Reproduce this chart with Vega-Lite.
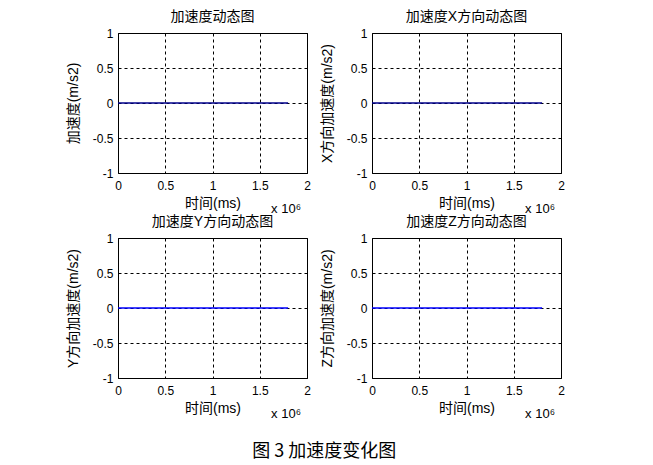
{
  "$schema": "https://vega.github.io/schema/vega-lite/v6.json",
  "background": "white",
  "padding": {"left": 65, "top": 9, "right": 10, "bottom": 10},
  "data": {"values": [
    {"panel": "all", "t": 0, "a": 0},
    {"panel": "all", "t": 1800000, "a": 0},
    {"panel": "x", "t": 0, "a": 0},
    {"panel": "x", "t": 1800000, "a": 0},
    {"panel": "y", "t": 0, "a": 0},
    {"panel": "y", "t": 1800000, "a": 0},
    {"panel": "z", "t": 0, "a": 0},
    {"panel": "z", "t": 1800000, "a": 0}
  ]},
  "config": {
    "font": "Liberation Sans, Noto Sans CJK SC",
    "view": {"stroke": "black", "strokeWidth": 1},
    "axis": {
      "domain": false,
      "ticks": false,
      "grid": true,
      "gridColor": "black",
      "gridOpacity": 1,
      "gridDash": [3, 3],
      "gridWidth": 1,
      "labelFont": "Liberation Sans",
      "labelFontSize": 12,
      "labelColor": "black",
      "labelPadding": 5,
      "labelOverlap": false,
      "labelFlush": false,
      "titleFont": "Liberation Sans, Noto Sans CJK SC",
      "titleFontSize": 14,
      "titleFontWeight": "normal",
      "titleColor": "black"
    },
    "axisX": {"values": [0, 500000, 1000000, 1500000, 2000000], "labelExpr": "datum.value / 1000000 + ''", "labelPadding": 7, "titlePadding": 5},
    "axisY": {"values": [-1, -0.5, 0, 0.5, 1], "labelExpr": "datum.value + ''", "titlePadding": 12},
    "title": {"font": "Liberation Sans, Noto Sans CJK SC", "fontSize": 14, "fontWeight": "normal", "color": "black", "offset": 3}
  },
  "title": {"text": "图 3 加速度变化图", "orient": "bottom", "anchor": "middle", "fontSize": 18, "font": "Noto Sans CJK SC", "offset": 21, "dx": 9},
  "columns": 2,
  "spacing": 65,
  "bounds": "flush",
  "concat": [
      {"width": 189, "height": 140, "title": "加速度动态图",
       "transform": [{"filter": "datum.panel === 'all'"}],
       "layer": [
         {"mark": {"type": "line", "color": "#00008B", "strokeWidth": 1.4},
          "encoding": {
            "x": {"field": "t", "type": "quantitative", "scale": {"domain": [0, 2000000], "nice": false}, "title": "时间(ms)"},
            "y": {"field": "a", "type": "quantitative", "scale": {"domain": [-1, 1], "nice": false}, "title": "加速度(m/s2)"}
          }},
         {"transform": [{"filter": "datum.t === 0"}],
          "mark": {"type": "text", "text": "x 10⁶", "align": "right", "baseline": "alphabetic", "dy": 40, "dx": -6, "fontSize": 13, "font": "Liberation Sans", "color": "black"},
          "encoding": {"x": {"datum": 2000000, "type": "quantitative"}, "y": {"datum": -1, "type": "quantitative"}}}
       ]},
      {"width": 189, "height": 140, "title": "加速度X方向动态图",
       "transform": [{"filter": "datum.panel === 'x'"}],
       "layer": [
         {"mark": {"type": "line", "color": "#00008B", "strokeWidth": 1.4},
          "encoding": {
            "x": {"field": "t", "type": "quantitative", "scale": {"domain": [0, 2000000], "nice": false}, "title": "时间(ms)"},
            "y": {"field": "a", "type": "quantitative", "scale": {"domain": [-1, 1], "nice": false}, "title": "X方向加速度(m/s2)"}
          }},
         {"transform": [{"filter": "datum.t === 0"}],
          "mark": {"type": "text", "text": "x 10⁶", "align": "right", "baseline": "alphabetic", "dy": 40, "dx": -6, "fontSize": 13, "font": "Liberation Sans", "color": "black"},
          "encoding": {"x": {"datum": 2000000, "type": "quantitative"}, "y": {"datum": -1, "type": "quantitative"}}}
       ]},
      {"width": 189, "height": 140, "title": "加速度Y方向动态图",
       "transform": [{"filter": "datum.panel === 'y'"}],
       "layer": [
         {"mark": {"type": "line", "color": "#0000FF", "strokeWidth": 1.4},
          "encoding": {
            "x": {"field": "t", "type": "quantitative", "scale": {"domain": [0, 2000000], "nice": false}, "title": "时间(ms)"},
            "y": {"field": "a", "type": "quantitative", "scale": {"domain": [-1, 1], "nice": false}, "title": "Y方向加速度(m/s2)"}
          }},
         {"transform": [{"filter": "datum.t === 0"}],
          "mark": {"type": "text", "text": "x 10⁶", "align": "right", "baseline": "alphabetic", "dy": 40, "dx": -6, "fontSize": 13, "font": "Liberation Sans", "color": "black"},
          "encoding": {"x": {"datum": 2000000, "type": "quantitative"}, "y": {"datum": -1, "type": "quantitative"}}}
       ]},
      {"width": 189, "height": 140, "title": "加速度Z方向动态图",
       "transform": [{"filter": "datum.panel === 'z'"}],
       "layer": [
         {"mark": {"type": "line", "color": "#0000FF", "strokeWidth": 1.4},
          "encoding": {
            "x": {"field": "t", "type": "quantitative", "scale": {"domain": [0, 2000000], "nice": false}, "title": "时间(ms)"},
            "y": {"field": "a", "type": "quantitative", "scale": {"domain": [-1, 1], "nice": false}, "title": "Z方向加速度(m/s2)"}
          }},
         {"transform": [{"filter": "datum.t === 0"}],
          "mark": {"type": "text", "text": "x 10⁶", "align": "right", "baseline": "alphabetic", "dy": 40, "dx": -6, "fontSize": 13, "font": "Liberation Sans", "color": "black"},
          "encoding": {"x": {"datum": 2000000, "type": "quantitative"}, "y": {"datum": -1, "type": "quantitative"}}}
       ]}
  ]
}
